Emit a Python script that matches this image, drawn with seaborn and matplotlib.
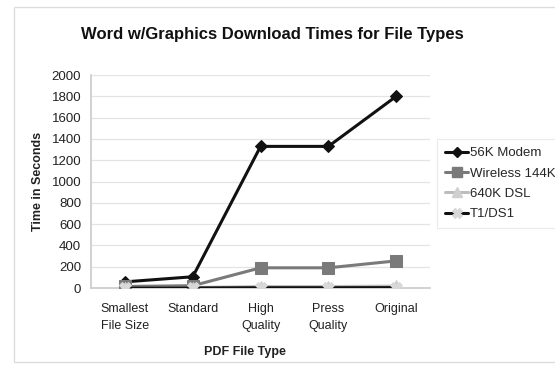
import matplotlib
matplotlib.use("Agg")
import matplotlib.pyplot as plt
import pandas as pd
import seaborn as sns
from matplotlib.lines import Line2D
from matplotlib.patches import Rectangle

# Download times (seconds) per PDF export setting
file_types = ["Smallest\nFile Size", "Standard", "High\nQuality", "Press\nQuality", "Original"]
modem_56k = [58, 106, 1330, 1330, 1800]
wireless_144k = [15, 22, 190, 190, 255]
dsl_640k = [3, 5, 14, 14, 18]
t1_ds1 = [1, 1, 3, 3, 4]

series_names = ["56K Modem", "Wireless 144K", "640K DSL", "T1/DS1"]
series_values = [modem_56k, wireless_144k, dsl_640k, t1_ds1]
y_ticks = [0, 200, 400, 600, 800, 1000, 1200, 1400, 1600, 1800, 2000]

rows = []
for name, vals in zip(series_names, series_values):
    for ft, v in zip(file_types, vals):
        rows.append({"PDF File Type": ft, "Time in Seconds": v, "Connection": name})
df = pd.DataFrame(rows)

sns.set_theme(style="white")
plt.rcParams["font.family"] = ["Liberation Sans", "DejaVu Sans"]

line_colors = {"56K Modem": "#111111", "Wireless 144K": "#7a7a7a",
               "640K DSL": "#bdbdbd", "T1/DS1": "#111111"}
marker_styles = {"56K Modem": "D", "Wireless 144K": "s", "640K DSL": "^", "T1/DS1": "X"}
marker_faces = {"56K Modem": "#111111", "Wireless 144K": "#7a7a7a",
                "640K DSL": "#cfcfcf", "T1/DS1": "#d8d8d8"}
marker_sizes = {"56K Modem": 6, "Wireless 144K": 8, "640K DSL": 8, "T1/DS1": 8}

fig = plt.figure(figsize=(5.55, 3.66), dpi=100)
ax = fig.add_axes([0.164, 0.213, 0.611, 0.582])

for i, name in enumerate(series_names):
    sub = df[df["Connection"] == name]
    sns.lineplot(data=sub, x="PDF File Type", y="Time in Seconds", sort=False,
                 color=line_colors[name], linewidth=2.2, marker=marker_styles[name],
                 markersize=marker_sizes[name], markerfacecolor=marker_faces[name],
                 markeredgecolor=marker_faces[name], ax=ax, zorder=3 + i)

ax.set_ylim(0, 2000)
ax.set_xlim(-0.5, len(file_types) - 0.5)
ax.set_yticks(y_ticks)
ax.set_yticklabels([str(t) for t in y_ticks], fontsize=9.5, color="#222222")
ax.tick_params(axis="x", labelsize=9, colors="#222222", length=0, pad=11)
ax.tick_params(axis="y", length=3, color="#bbbbbb", pad=4)
for lbl in ax.get_xticklabels():
    lbl.set_linespacing(1.55)
ax.grid(axis="y", color="#e4e4e4", linewidth=0.9)
ax.set_axisbelow(True)
for side in ["top", "right"]:
    ax.spines[side].set_visible(False)
ax.spines["left"].set_color("#cccccc")
ax.spines["bottom"].set_color("#cccccc")

ax.set_xlabel("PDF File Type", fontsize=9, fontweight="bold", color="#222222")
ax.xaxis.set_label_coords(0.453, -0.27)
ax.set_ylabel("Time in Seconds", fontsize=9, fontweight="bold", color="#222222")
ax.yaxis.set_label_coords(-0.14, 0.5)

fig.suptitle("Word w/Graphics Download Times for File Types", x=0.49, y=0.925,
             fontsize=12, fontweight="bold", color="#111111")

handles = [Line2D([0], [0], color=line_colors[n], linewidth=2.2, marker=marker_styles[n],
                  markersize=marker_sizes[n] - 1, markerfacecolor=marker_faces[n],
                  markeredgecolor=marker_faces[n]) for n in series_names]
leg = fig.legend(handles, series_names, loc="upper left", bbox_to_anchor=(0.787, 0.62),
                 fontsize=9.5, frameon=True, fancybox=False, handlelength=1.8,
                 handletextpad=0.1, borderpad=0.6, labelspacing=0.62, borderaxespad=0)
leg.get_frame().set_edgecolor("#e6e6e6")
leg.get_frame().set_linewidth(0.8)

# chart-area border
fig.patches.append(Rectangle((0.025, 0.01), 1.0, 0.97, transform=fig.transFigure,
                             fill=False, edgecolor="#dddddd", linewidth=1.0))

fig.savefig("out.png", dpi=100)
